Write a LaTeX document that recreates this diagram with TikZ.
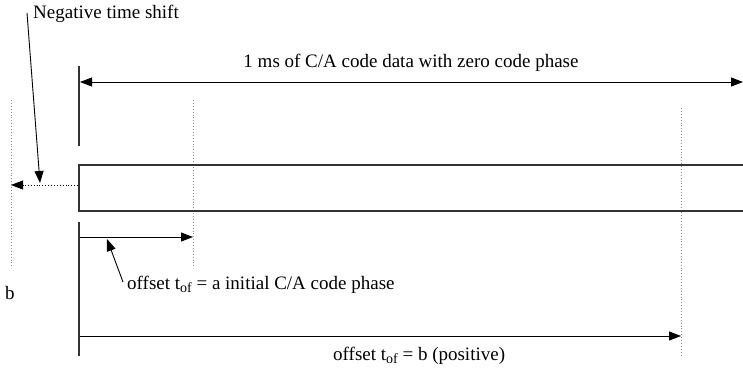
\documentclass[tikz,border=0pt]{standalone}
\usepackage{fontspec}
\setmainfont{Liberation Serif}
\usetikzlibrary{arrows.meta}
\newcommand{\mysub}[1]{\raisebox{-0.45ex}{\fontsize{14}{15}\selectfont #1}}
\begin{document}
\begin{tikzpicture}[x=1pt,y=-1pt,
  lbl/.style={inner sep=0pt,font=\fontsize{19}{22}\selectfont},
  solidln/.style={line width=1.3pt,draw=black!80},
  thin/.style={line width=0.9pt,draw=black},
  dotln/.style={dotted,line width=0.9pt,draw=black!45},
  tip/.style={-{Triangle[length=12pt,width=9pt]}},
  tips/.style={{Triangle[length=12pt,width=9pt]}-{Triangle[length=12pt,width=9pt]}}]
\useasboundingbox (0,0) rectangle (743,370);
% coordinates
\coordinate (v1a) at (79,66);
\coordinate (v1b) at (79,146);
\coordinate (v2a) at (79,222);
\coordinate (v2b) at (79,356);
\coordinate (topL) at (80,82);
\coordinate (topR) at (743,82);
\coordinate (rTL) at (79,165);
\coordinate (rTR) at (743,165);
\coordinate (rBL) at (79,211);
\coordinate (rBR) at (743,211);
\coordinate (dA1) at (11,100);
\coordinate (dA2) at (11,268);
\coordinate (dB1) at (193,100);
\coordinate (dB2) at (193,268);
\coordinate (dC1) at (681,108);
\coordinate (dC2) at (681,356);
\coordinate (negS) at (78,185);
\coordinate (negE) at (11,185);
\coordinate (negL1) at (27,13);
\coordinate (negL2) at (40,183);
\coordinate (aS) at (80,237);
\coordinate (aE) at (193,237);
\coordinate (aL1) at (123,282);
\coordinate (aL2) at (107,239);
\coordinate (bS) at (80,336);
\coordinate (bE) at (681,336);
% texts
\node[lbl,anchor=base west] (tneg) at (33,18) {Negative time shift};
\node[lbl,anchor=base] (tms) at (411,67) {1 ms of C/A code data with zero code phase};
\node[lbl,anchor=base west] (ta) at (127,289) {offset t\mysub{of} = a initial C/A code phase};
\node[lbl,anchor=base] (tb) at (10,299) {b};
\node[lbl,anchor=base west] (tpos) at (333,360) {offset t\mysub{of} = b (positive)};
% dotted guides
\draw[dotln] (dA1) -- (dA2);
\draw[dotln] (dB1) -- (dB2);
\draw[dotln] (dC1) -- (dC2);
% solid
\draw[solidln] (v1a) -- (v1b);
\draw[solidln] (v2a) -- (v2b);
\draw[solidln] (rTR) -- (rTL) -- (rBL) -- (rBR);
\draw[thin,tips] (topL) -- (topR);
\draw[thin,tip] (aS) -- (aE);
\draw[thin,tip] (bS) -- (bE);
\draw[dotted,line width=0.9pt,tip] (negS) -- (negE);
\draw[thin,tip] (negL1) -- (negL2);
\draw[thin,tip] (aL1) -- (aL2);
\end{tikzpicture}
\end{document}
